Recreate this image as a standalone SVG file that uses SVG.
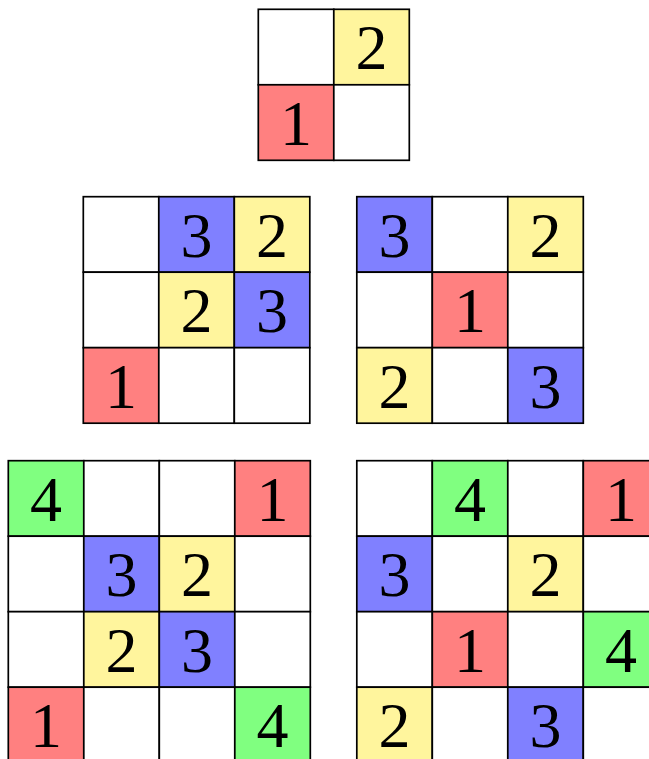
<svg xmlns="http://www.w3.org/2000/svg" width="649" height="759" viewBox="0 0 649 759">
<style>
rect{stroke:#000;stroke-width:1.7;width:75.5px;height:75.5px}
.w{fill:#fff}.r{fill:#ff8080}.y{fill:#fff59d}.b{fill:#8080ff}.g{fill:#80ff80}
text{font-family:"Liberation Serif","Times New Roman",serif;font-size:64px;text-anchor:middle;fill:#000}
</style>
<rect x="0" y="0" width="649" height="759" style="fill:#fff;stroke:none;width:649px;height:759px"/>
<g id="grid2" transform="translate(258.3,9.3)">
<rect class="w" x="0" y="0"/><rect class="y" x="75.5" y="0"/>
<rect class="r" x="0" y="75.5"/><rect class="w" x="75.5" y="75.5"/>
<text x="113.25" y="60">2</text><text x="37.75" y="135.5">1</text>
</g>
<g id="grid3a" transform="translate(83.3,196.7)">
<rect class="w" x="0" y="0"/><rect class="b" x="75.5" y="0"/><rect class="y" x="151" y="0"/>
<rect class="w" x="0" y="75.5"/><rect class="y" x="75.5" y="75.5"/><rect class="b" x="151" y="75.5"/>
<rect class="r" x="0" y="151"/><rect class="w" x="75.5" y="151"/><rect class="w" x="151" y="151"/>
<text x="113.25" y="60">3</text><text x="188.75" y="60">2</text>
<text x="113.25" y="135.5">2</text><text x="188.75" y="135.5">3</text>
<text x="37.75" y="211">1</text>
</g>
<g id="grid3b" transform="translate(356.8,196.7)">
<rect class="b" x="0" y="0"/><rect class="w" x="75.5" y="0"/><rect class="y" x="151" y="0"/>
<rect class="w" x="0" y="75.5"/><rect class="r" x="75.5" y="75.5"/><rect class="w" x="151" y="75.5"/>
<rect class="y" x="0" y="151"/><rect class="w" x="75.5" y="151"/><rect class="b" x="151" y="151"/>
<text x="37.75" y="60">3</text><text x="188.75" y="60">2</text>
<text x="113.25" y="135.5">1</text>
<text x="37.75" y="211">2</text><text x="188.75" y="211">3</text>
</g>
<g id="grid4a" transform="translate(8.3,460.7)">
<rect class="g" x="0" y="0"/><rect class="w" x="75.5" y="0"/><rect class="w" x="151" y="0"/><rect class="r" x="226.5" y="0"/>
<rect class="w" x="0" y="75.5"/><rect class="b" x="75.5" y="75.5"/><rect class="y" x="151" y="75.5"/><rect class="w" x="226.5" y="75.5"/>
<rect class="w" x="0" y="151"/><rect class="y" x="75.5" y="151"/><rect class="b" x="151" y="151"/><rect class="w" x="226.5" y="151"/>
<rect class="r" x="0" y="226.5"/><rect class="w" x="75.5" y="226.5"/><rect class="w" x="151" y="226.5"/><rect class="g" x="226.5" y="226.5"/>
<text x="37.75" y="60">4</text><text x="264.25" y="60">1</text>
<text x="113.25" y="135.5">3</text><text x="188.75" y="135.5">2</text>
<text x="113.25" y="211">2</text><text x="188.75" y="211">3</text>
<text x="37.75" y="286.5">1</text><text x="264.25" y="286.5">4</text>
</g>
<g id="grid4b" transform="translate(356.8,460.7)">
<rect class="w" x="0" y="0"/><rect class="g" x="75.5" y="0"/><rect class="w" x="151" y="0"/><rect class="r" x="226.5" y="0"/>
<rect class="b" x="0" y="75.5"/><rect class="w" x="75.5" y="75.5"/><rect class="y" x="151" y="75.5"/><rect class="w" x="226.5" y="75.5"/>
<rect class="w" x="0" y="151"/><rect class="r" x="75.5" y="151"/><rect class="w" x="151" y="151"/><rect class="g" x="226.5" y="151"/>
<rect class="y" x="0" y="226.5"/><rect class="w" x="75.5" y="226.5"/><rect class="b" x="151" y="226.5"/><rect class="w" x="226.5" y="226.5"/>
<text x="113.25" y="60">4</text><text x="264.25" y="60">1</text>
<text x="37.75" y="135.5">3</text><text x="188.75" y="135.5">2</text>
<text x="113.25" y="211">1</text><text x="264.25" y="211">4</text>
<text x="37.75" y="286.5">2</text><text x="188.75" y="286.5">3</text>
</g>
<g id="connectors"/>
</svg>
